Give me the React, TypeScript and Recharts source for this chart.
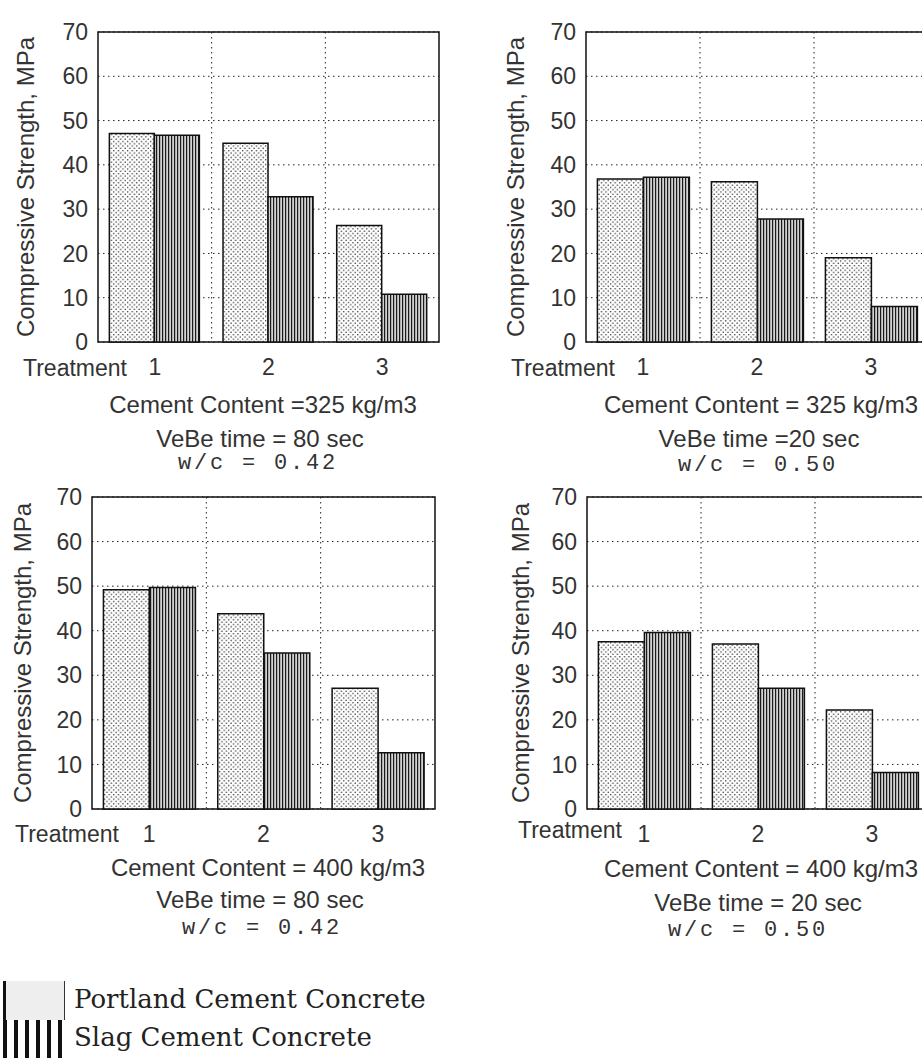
import React from 'react'
import { BarChart, Bar, XAxis, YAxis, CartesianGrid, ReferenceArea } from 'recharts'

const treatments = ['1', '2', '3']
const yTicks = [0, 10, 20, 30, 40, 50, 60, 70]

// compressive strength, MPa
const portland325v80 = [47.1, 44.9, 26.3]
const slag325v80 = [46.7, 32.8, 10.8]
const portland325v20 = [36.8, 36.2, 19.0]
const slag325v20 = [37.2, 27.8, 8.0]
const portland400v80 = [49.2, 43.8, 27.1]
const slag400v80 = [49.7, 35.0, 12.6]
const portland400v20 = [37.5, 37.0, 22.2]
const slag400v20 = [39.6, 27.1, 8.2]

const sans = '"Liberation Sans", Arial, sans-serif'
const mono = '"Liberation Mono", "Courier New", monospace'
const serif = '"DejaVu Serif", serif'

function toRows(portland: number[], slag: number[]) {
  return treatments.map((t, i) => ({ treatment: t, portland: portland[i], slag: slag[i] }))
}

const boundaryLines = ({ offset }: any) => [
  offset.left + offset.width / 3,
  offset.left + (offset.width * 2) / 3,
]

function Txt({ x, y, children, font = sans, size = 24, spacing = 0 }: any) {
  return (
    <div
      style={{
        position: 'absolute',
        left: x,
        top: y,
        transform: 'translate(-50%, -50%)',
        whiteSpace: 'nowrap',
        fontFamily: font,
        fontSize: size,
        lineHeight: 0.9,
        color: '#333',
        letterSpacing: spacing,
      }}
    >
      {children}
    </div>
  )
}

function Panel({ left, top, plot, labelX, portland, slag, treatmentAt, lines }: any) {
  const width = 480
  const height = 400
  const xAxisHeight = 40
  const rows = toRows(portland, slag)
  return (
    <>
      <div style={{ position: 'absolute', left, top }}>
        <BarChart
          width={width}
          height={height}
          data={rows}
          barCategoryGap="10%"
          barGap={0}
          margin={{
            top: plot.t - top,
            left: 0,
            right: width - (plot.r - left),
            bottom: height - (plot.b - top) - xAxisHeight,
          }}
        >
          <CartesianGrid
            stroke="#222"
            strokeDasharray="1.5 3.5"
            verticalCoordinatesGenerator={boundaryLines}
          />
          <XAxis
            dataKey="treatment"
            height={xAxisHeight}
            axisLine={false}
            tickLine={false}
            tickSize={0}
            tickMargin={17}
            tick={{ fontSize: 23, fill: '#333', fontFamily: sans }}
          />
          <YAxis
            width={plot.l - left}
            domain={[0, 70]}
            ticks={yTicks}
            axisLine={false}
            tickLine={false}
            tickSize={0}
            tickMargin={10}
            tick={{ fontSize: 23, fill: '#333', fontFamily: sans }}
            label={{
              value: 'Compressive Strength, MPa',
              angle: -90,
              position: 'insideLeft',
              offset: labelX,
              fill: '#333',
              fontSize: 24,
              fontFamily: sans,
              style: { textAnchor: 'middle' },
            }}
          />
          <Bar dataKey="portland" fill="url(#dots)" stroke="#111" strokeWidth={1.5} isAnimationActive={false} />
          <Bar dataKey="slag" fill="url(#stripes)" stroke="#111" strokeWidth={1.5} isAnimationActive={false} />
          <ReferenceArea y1={0} y2={70} fill="none" stroke="#111" strokeWidth={1.5} ifOverflow="visible" />
        </BarChart>
      </div>
      <Txt x={treatmentAt[0]} y={treatmentAt[1]} size={23}>Treatment</Txt>
      <Txt x={lines[0][0]} y={lines[0][1]}>{lines[0][2]}</Txt>
      <Txt x={lines[1][0]} y={lines[1][1]}>{lines[1][2]}</Txt>
      <Txt x={lines[2][0]} y={lines[2][1]} font={mono} size={22} spacing={2.8}>{lines[2][2]}</Txt>
    </>
  )
}

export default function App() {
  return (
    <div
      style={{
        position: 'absolute',
        left: 0,
        top: 0,
        width: 922,
        height: 1058,
        overflow: 'hidden',
        background: '#fff',
      }}
    >
      <svg width={0} height={0} style={{ position: 'absolute' }}>
        <defs>
          <pattern id="dots" width={4.6} height={4.6} patternUnits="userSpaceOnUse">
            <rect width={4.6} height={4.6} fill="#fff" />
            <circle cx={1.1} cy={1.1} r={0.75} fill="#222" />
            <circle cx={3.4} cy={3.4} r={0.75} fill="#222" />
          </pattern>
          <pattern id="stripes" width={3} height={10} patternUnits="userSpaceOnUse">
            <rect width={3} height={10} fill="#d2d2d2" />
            <rect width={1.2} height={10} fill="#1a1a1a" />
          </pattern>
        </defs>
      </svg>

      <Panel
        left={0}
        top={0}
        plot={{ l: 98, t: 32, r: 439, b: 342 }}
        labelX={25}
        portland={portland325v80}
        slag={slag325v80}
        treatmentAt={[75, 368]}
        lines={[
          [263, 405, 'Cement Content =325 kg/m3'],
          [260, 439, 'VeBe time = 80 sec'],
          [258, 464, 'w/c = 0.42'],
        ]}
      />
      <Panel
        left={460}
        top={0}
        plot={{ l: 586, t: 32, r: 928, b: 342 }}
        labelX={55}
        portland={portland325v20}
        slag={slag325v20}
        treatmentAt={[563, 368]}
        lines={[
          [761, 405, 'Cement Content = 325 kg/m3'],
          [759, 439, 'VeBe time =20 sec'],
          [758, 466, 'w/c = 0.50'],
        ]}
      />
      <Panel
        left={0}
        top={460}
        plot={{ l: 92, t: 497, r: 435, b: 809 }}
        labelX={22}
        portland={portland400v80}
        slag={slag400v80}
        treatmentAt={[67, 834]}
        lines={[
          [268, 868, 'Cement Content = 400 kg/m3'],
          [260, 900, 'VeBe time = 80 sec'],
          [262, 929, 'w/c = 0.42'],
        ]}
      />
      <Panel
        left={460}
        top={460}
        plot={{ l: 587, t: 497, r: 929, b: 809 }}
        labelX={60}
        portland={portland400v20}
        slag={slag400v20}
        treatmentAt={[570, 830]}
        lines={[
          [761, 869, 'Cement Content = 400 kg/m3'],
          [758, 903, 'VeBe time = 20 sec'],
          [748, 931, 'w/c = 0.50'],
        ]}
      />

      {/* legend */}
      <div
        style={{
          position: 'absolute',
          left: 3,
          top: 981,
          width: 58,
          height: 39,
          background: '#eeeeee',
          borderLeft: '3px solid #111',
          borderRight: '1px solid #333',
        }}
      />
      <div
        style={{
          position: 'absolute',
          left: 3,
          top: 1020,
          width: 62,
          height: 38,
          background: 'repeating-linear-gradient(90deg, #111 0px, #111 4px, #fff 4px, #fff 11px)',
        }}
      />
      <div style={{ position: 'absolute', left: 74, top: 986, fontFamily: serif, fontSize: 26, lineHeight: 1, color: '#222', whiteSpace: 'nowrap' }}>
        Portland Cement Concrete
      </div>
      <div style={{ position: 'absolute', left: 74, top: 1024, fontFamily: serif, fontSize: 26, lineHeight: 1, color: '#222', whiteSpace: 'nowrap' }}>
        Slag Cement Concrete
      </div>
    </div>
  )
}
